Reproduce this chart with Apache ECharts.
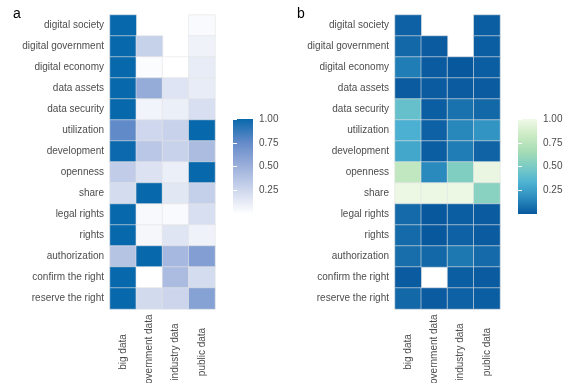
<!DOCTYPE html>
<html>
<head>
<meta charset="utf-8">
<script src="https://cdn.jsdelivr.net/npm/echarts@6/dist/echarts.min.js"></script>
<style>
html,body{margin:0;padding:0;background:#fff;}
#c{width:568px;height:383px;}
</style>
</head>
<body>
<div id="c"></div>
<script>
// ---- data ----
const rowLabels = ['digital society','digital government','digital economy','data assets','data security','utilization','development','openness','share','legal rights','rights','authorization','confirm the right','reserve the right'];
const colLabels = ['big data','government data','industry data','public data'];

// panel a (null = missing)
const aBig = [1.00, 1.00, 1.00, 1.00, 1.00, 0.76, 0.99, 0.32, 0.22, 1.00, 1.00, 0.37, 1.00, 1.00];
const aGov = [null, 0.29, 0.02, 0.53, 0.07, 0.25, 0.35, 0.18, 1.00, 0.04, 0.05, 1.00, 0.00, 0.23];
const aInd = [null, null, 0.00, 0.17, 0.10, 0.28, 0.28, 0.10, 0.15, 0.03, 0.16, 0.45, 0.42, 0.26];
const aPub = [0.03, 0.08, 0.12, 0.12, 0.20, 1.00, 0.42, 1.00, 0.30, 0.20, 0.08, 0.62, 0.22, 0.60];

// panel b
const bBig = [0.03, 0.05, 0.12, 0.01, 0.42, 0.32, 0.28, 0.78, 0.98, 0.06, 0.06, 0.07, 0.01, 0.05];
const bGov = [null, 0.01, 0.01, 0.01, 0.02, 0.03, 0.02, 0.16, 0.98, 0.00, 0.00, 0.05, null, 0.01];
const bInd = [null, null, 0.00, 0.01, 0.08, 0.15, 0.12, 0.52, 0.98, 0.02, 0.03, 0.10, 0.02, 0.03];
const bPub = [0.02, 0.02, 0.02, 0.01, 0.05, 0.20, 0.04, 0.97, 0.55, 0.01, 0.01, 0.06, 0.01, 0.02];

const barTicks = [0.25, 0.50, 0.75, 1.00];

// ---- styles ----
const colorsA = ['#ffffff', '#ced7ed', '#9cb0db', '#658bc9', '#0868ac'];
const colorsB = ['#08589e', '#2b8cbe', '#4eb3d3', '#7bccc4', '#a8ddb5', '#ccebc5', '#f0f9e8'];
const txt = '#4d4d4d';
const font = 'Liberation Sans, Arial, sans-serif';

function toCells(cols) {
  const out = [];
  cols.forEach((arr, ci) => arr.forEach((v, ri) => { if (v !== null) out.push([ci, ri, v]); }));
  return out;
}
function gradient(colors) {
  const n = colors.length;
  return new echarts.graphic.LinearGradient(0, 0, 0, 1,
    colors.slice().reverse().map((c, i) => ({ offset: i / (n - 1), color: c })));
}

const heatGrids = [
  { left: 110, top: 15, width: 105, height: 294 },
  { left: 395, top: 15, width: 105, height: 294 }
];
const barGrids = [
  { left: 233, top: 119, width: 20, height: 95 },
  { left: 518, top: 119, width: 19, height: 95 }
];

const xAxes = [], yAxes = [], series = [];
[0, 1].forEach(i => {
  xAxes.push({
    type: 'category', gridIndex: i, data: colLabels, position: 'bottom',
    axisLine: { show: false }, axisTick: { show: false }, splitLine: { show: false },
    axisLabel: { rotate: 90, margin: 43, align: 'center', verticalAlign: 'middle',
      color: txt, fontSize: 10, fontFamily: font, interval: 0 }
  });
  yAxes.push({
    type: 'category', gridIndex: i, data: rowLabels, inverse: true,
    axisLine: { show: false }, axisTick: { show: false }, splitLine: { show: false },
    axisLabel: { margin: 6, color: txt, fontSize: 10, fontFamily: font, interval: 0 }
  });
});
// colorbar grids: index 2,3
[0, 1].forEach(i => {
  const g = 2 + i;
  xAxes.push({ type: 'value', gridIndex: g, min: 0, max: 1, show: false });
  yAxes.push({
    type: 'value', gridIndex: g, min: 0, max: 1, interval: 0.25, position: 'right', z: 5,
    axisLine: { show: false }, splitLine: { show: false },
    axisTick: { show: true, inside: true, length: 4, lineStyle: { color: '#ffffff', width: 1 } },
    axisLabel: {
      margin: 6, color: txt, fontSize: 10, fontFamily: font,
      formatter: v => barTicks.includes(v) ? v.toFixed(2) : ''
    }
  });
  yAxes.push({
    type: 'value', gridIndex: g, min: 0, max: 1, interval: 0.25, position: 'left', z: 5,
    axisLine: { show: false }, splitLine: { show: false },
    axisTick: { show: true, inside: true, length: 4, lineStyle: { color: '#ffffff', width: 1 } },
    axisLabel: { show: false }
  });
});

const cellStyle = { borderColor: '#e4e4e4', borderWidth: 0.6 };
series.push({
  type: 'heatmap', xAxisIndex: 0, yAxisIndex: 0,
  data: toCells([aBig, aGov, aInd, aPub]), itemStyle: cellStyle,
  emphasis: { disabled: true }, progressive: 0
});
series.push({
  type: 'heatmap', xAxisIndex: 1, yAxisIndex: 1,
  data: toCells([bBig, bGov, bInd, bPub]), itemStyle: cellStyle,
  emphasis: { disabled: true }, progressive: 0
});
[colorsA, colorsB].forEach((cols, i) => {
  series.push({
    type: 'custom', xAxisIndex: 2 + i, yAxisIndex: 2 + 2 * i, z: 1,
    data: [[0, 0, 1, 1]],
    renderItem: (params, api) => {
      const p1 = api.coord([api.value(0), api.value(3)]);
      const p2 = api.coord([api.value(2), api.value(1)]);
      return { type: 'rect', shape: { x: p1[0], y: p1[1], width: p2[0] - p1[0], height: p2[1] - p1[1] },
        style: { fill: gradient(cols) } };
    },
    silent: true
  });
});

const option = {
  animation: false,
  backgroundColor: '#ffffff',
  title: [
    { text: 'a', left: 8, top: 2, textStyle: { fontSize: 14, fontWeight: 'normal', color: '#000', fontFamily: font } },
    { text: 'b', left: 292, top: 2, textStyle: { fontSize: 14, fontWeight: 'normal', color: '#000', fontFamily: font } }
  ],
  grid: heatGrids.concat(barGrids).map(g => Object.assign({ containLabel: false, outerBoundsMode: 'none' }, g)),
  xAxis: xAxes,
  yAxis: yAxes,
  visualMap: [
    { show: false, seriesIndex: 0, min: 0, max: 1, inRange: { color: colorsA } },
    { show: false, seriesIndex: 1, min: 0, max: 1, inRange: { color: colorsB } }
  ],
  series: series
};

const chart = echarts.init(document.getElementById('c'), null, { renderer: 'canvas' });
chart.setOption(option);
</script>
</body>
</html>
